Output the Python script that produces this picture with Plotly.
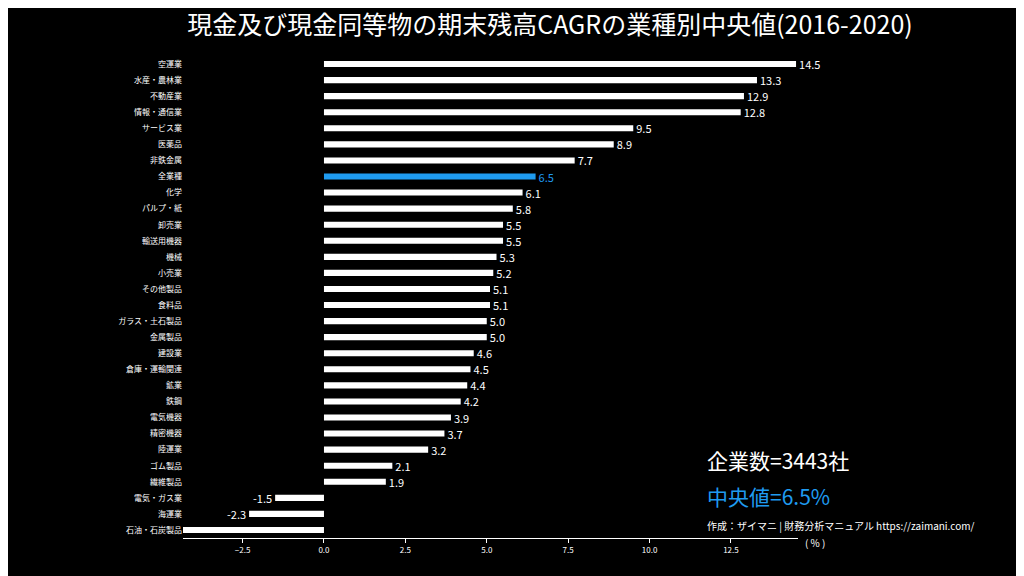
import plotly.graph_objects as go

categories = ["空運業", "水産・農林業", "不動産業", "情報・通信業", "サービス業", "医薬品", "非鉄金属",
              "全業種", "化学", "パルプ・紙", "卸売業", "輸送用機器", "機械", "小売業", "その他製品",
              "食料品", "ガラス・土石製品", "金属製品", "建設業", "倉庫・運輸関連", "鉱業", "鉄鋼",
              "電気機器", "精密機器", "陸運業", "ゴム製品", "繊維製品", "電気・ガス業", "海運業",
              "石油・石炭製品"]
values = [14.5, 13.3, 12.9, 12.8, 9.5, 8.9, 7.7, 6.5, 6.1, 5.8, 5.5, 5.5, 5.3, 5.2, 5.1,
          5.1, 5.0, 5.0, 4.6, 4.5, 4.4, 4.2, 3.9, 3.7, 3.2, 2.1, 1.9, -1.5, -2.3, -4.4]
company_count = 3443
median_all = 6.5

FONT = "Noto Sans CJK JP"
BLUE = "#1f9bf0"
ypos = list(range(len(categories)))
colors = [BLUE if c == "全業種" else "white" for c in categories]

fig = go.Figure(go.Bar(
    x=values, y=ypos, orientation="h", width=0.38,
    marker=dict(color=colors, line_width=0),
    text=[f"{v:.1f}" for v in values], textposition="outside",
    constraintext="none",
    textfont=dict(color=colors, size=11, family=FONT), cliponaxis=False,
))

fig.update_layout(
    width=1024, height=576, paper_bgcolor="black", plot_bgcolor="black",
    margin=dict(l=175, r=234, t=48, b=46),
    font=dict(family=FONT, color="white"),
    showlegend=False,
    title=dict(text="現金及び現金同等物の期末残高CAGRの業種別中央値(2016-2020)",
               x=0.175, xanchor="left", y=0.985, yanchor="top",
               font=dict(size=25, color="white")),
    xaxis=dict(range=[-4.33, 14.56], tickvals=[-2.5, 0, 2.5, 5, 7.5, 10, 12.5],
               ticktext=["−2.5", "0.0", "2.5", "5.0", "7.5", "10.0", "12.5"],
               showgrid=False, zeroline=False, showline=True, linecolor="white",
               ticks="outside", tickcolor="white", ticklen=4, tickfont=dict(size=8),
               automargin=False),
    yaxis=dict(range=[29.5, -0.5], tickvals=ypos, ticktext=categories,
               showgrid=False, zeroline=False, showline=False,
               ticks="", tickfont=dict(size=8), automargin=False),
)

ann = [
    dict(text=f"企業数={company_count}社", py=452, size=21, color="white"),
    dict(text=f"中央値={median_all}%", py=488, size=21, color=BLUE),
    dict(text="作成：ザイマニ | 財務分析マニュアル https://zaimani.com/", py=517,
         size=10, color="white"),
]
for a in ann:
    fig.add_annotation(xref="paper", yref="paper", x=(697 - 175) / 615,
                       y=1 - (a["py"] - 48) / 482,
                       xanchor="left", yanchor="middle", text=a["text"], showarrow=False,
                       font=dict(size=a["size"], color=a["color"]))
fig.add_annotation(xref="paper", yref="paper", x=(795 - 175) / 615, y=1 - (534 - 48) / 482,
                   xanchor="left", yanchor="middle", text="( % )", showarrow=False,
                   font=dict(size=10, color="white"))

fig.write_html("out.html")
